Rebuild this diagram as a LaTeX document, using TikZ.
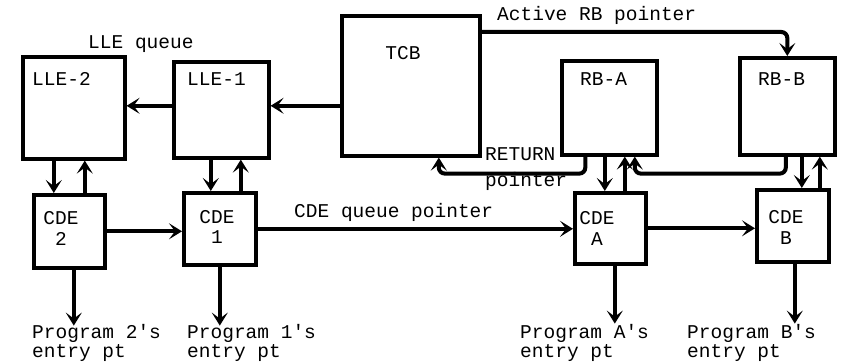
\documentclass[tikz,border=0pt]{standalone}
\usepackage{fontspec}
\setmainfont{Liberation Mono}[Ligatures=NoCommon]
\usetikzlibrary{arrows.meta}
\newcommand{\aps}{\textquotesingle}
\begin{document}
\begin{tikzpicture}[x=1pt,y=-1pt,
  box/.style={draw, line width=3.6pt, inner sep=0pt, anchor=north west},
  lbl/.style={inner sep=0pt, font=\fontsize{19.5}{20}\selectfont},
  arr/.style={line width=4pt, -{Stealth[length=13pt,width=16pt,inset=6pt]}}
]
\useasboundingbox (0,0) rectangle (842,363);
% boxes
\node[box, minimum width=102pt, minimum height=102pt] (LLE2) at (21,55) {};
\node[box, minimum width=95pt, minimum height=96pt] (LLE1) at (172,60) {};
\node[box, minimum width=138pt, minimum height=140pt] (TCB) at (340,14) {};
\node[box, minimum width=95pt, minimum height=94pt] (RBA) at (560,59) {};
\node[box, minimum width=95pt, minimum height=97pt] (RBB) at (738,56) {};
\node[box, minimum width=71pt, minimum height=73pt] (CDE2) at (32,193) {};
\node[box, minimum width=72pt, minimum height=72pt] (CDE1) at (182,191) {};
\node[box, minimum width=71pt, minimum height=71pt] (CDEA) at (573,191) {};
\node[box, minimum width=72pt, minimum height=72pt] (CDEB) at (755,188) {};
% box texts
\node[lbl, anchor=base west] (tLLE2) at (32,86) {LLE-2};
\node[lbl, anchor=base west] (tLLE1) at (187,86) {LLE-1};
\node[lbl, anchor=base] (tTCB) at (403,60) {TCB};
\node[lbl, anchor=base west] (tRBA) at (580,86) {RB-A};
\node[lbl, anchor=base west] (tRBB) at (758,86) {RB-B};
\node[lbl, anchor=base] (tCDE2a) at (61,225) {CDE};
\node[lbl, anchor=base] (tCDE2b) at (61,245) {2};
\node[lbl, anchor=base] (tCDE1a) at (217,223) {CDE};
\node[lbl, anchor=base] (tCDE1b) at (217,243) {1};
\node[lbl, anchor=base] (tCDEAa) at (597,225) {CDE};
\node[lbl, anchor=base] (tCDEAb) at (597,245) {A};
\node[lbl, anchor=base] (tCDEBa) at (786,223) {CDE};
\node[lbl, anchor=base] (tCDEBb) at (786,244) {B};
% other labels
\node[lbl, anchor=base west] (lq) at (88,49) {LLE queue};
\node[lbl, anchor=base west] (arb) at (497,21) {Active RB pointer};
\node[lbl, anchor=base west] (cqp) at (294,218) {CDE queue pointer};
\node[lbl, anchor=base west] (ret1) at (485,161) {RETURN};
\node[lbl, anchor=base west] (ret2) at (485,187) {pointer};
\node[lbl, anchor=base west] (p2a) at (32,338) {Program 2\aps s};
\node[lbl, anchor=base west] (p2b) at (32,357) {entry pt};
\node[lbl, anchor=base west] (p1a) at (187,338) {Program 1\aps s};
\node[lbl, anchor=base west] (p1b) at (187,357) {entry pt};
\node[lbl, anchor=base west] (pAa) at (520,338) {Program A\aps s};
\node[lbl, anchor=base west] (pAb) at (520,357) {entry pt};
\node[lbl, anchor=base west] (pBa) at (687,338) {Program B\aps s};
\node[lbl, anchor=base west] (pBb) at (687,357) {entry pt};
% queue arrows
\coordinate (q1) at ([yshift=4pt]LLE1.east);
\draw[arr] (TCB.west |- q1) -- (q1);
\draw[arr] (LLE1.west |- q1) -- (LLE2.east |- q1);
% LLE / RB <-> CDE
\coordinate (d2) at ([xshift=-20pt]LLE2.south);
\coordinate (u2) at ([xshift=11pt]LLE2.south);
\draw[arr] (d2) -- (d2 |- CDE2.north);
\draw[arr] (u2 |- CDE2.north) -- (u2);
\coordinate (d1) at ([xshift=-10.5pt]LLE1.south);
\coordinate (u1) at ([xshift=19.5pt]LLE1.south);
\draw[arr] (d1) -- (d1 |- CDE1.north);
\draw[arr] (u1 |- CDE1.north) -- (u1);
\coordinate (dA) at ([xshift=-4.5pt]RBA.south);
\coordinate (uA) at ([xshift=15.5pt]RBA.south);
\draw[arr] (dA) -- (dA |- CDEA.north);
\draw[arr] (uA |- CDEA.north) -- (uA);
\coordinate (dB) at ([xshift=14.5pt]RBB.south);
\coordinate (uB) at ([xshift=32.5pt]RBB.south);
\draw[arr] (dB) -- (dB |- CDEB.north);
\draw[arr] (uB |- CDEB.north) -- (uB);
% CDE queue
\draw[arr] (CDE2.east) -- (CDE1.west |- CDE2.east);
\draw[arr] (CDE1.east) -- (CDEA.west |- CDE1.east);
\draw[arr] (CDEA.east) -- (CDEB.west |- CDEA.east);
% entry points
\coordinate (e2) at ([xshift=4.5pt]CDE2.south);
\coordinate (e1) at (CDE1.south);
\coordinate (eA) at ([xshift=4.5pt]CDEA.south);
\coordinate (eB) at ([xshift=2pt]CDEB.south);
\draw[arr] (e2) -- ([yshift=-56pt]e2);
\draw[arr] (e1) -- ([yshift=-59pt]e1);
\draw[arr] (eA) -- ([yshift=-58pt]eA);
\draw[arr] (eB) -- ([yshift=-60pt]eB);
% active RB pointer
\coordinate (t1) at ([yshift=-18pt]TCB.north east);
\draw[arr, rounded corners=6pt] (t1) -| (RBB.north);
% RETURN pointers
\coordinate (r1) at ([xshift=-24pt]RBA.south);
\coordinate (r2) at ([xshift=28pt]TCB.south);
\draw[arr, rounded corners=6pt] (r1) -- ++(0pt,-17pt) -| (r2);
\coordinate (r3) at ([xshift=25.5pt]RBA.south);
\draw[arr, rounded corners=6pt] ([xshift=-1.5pt]RBB.south) -- ++(0pt,-17pt) -| (r3);
\end{tikzpicture}
\end{document}
